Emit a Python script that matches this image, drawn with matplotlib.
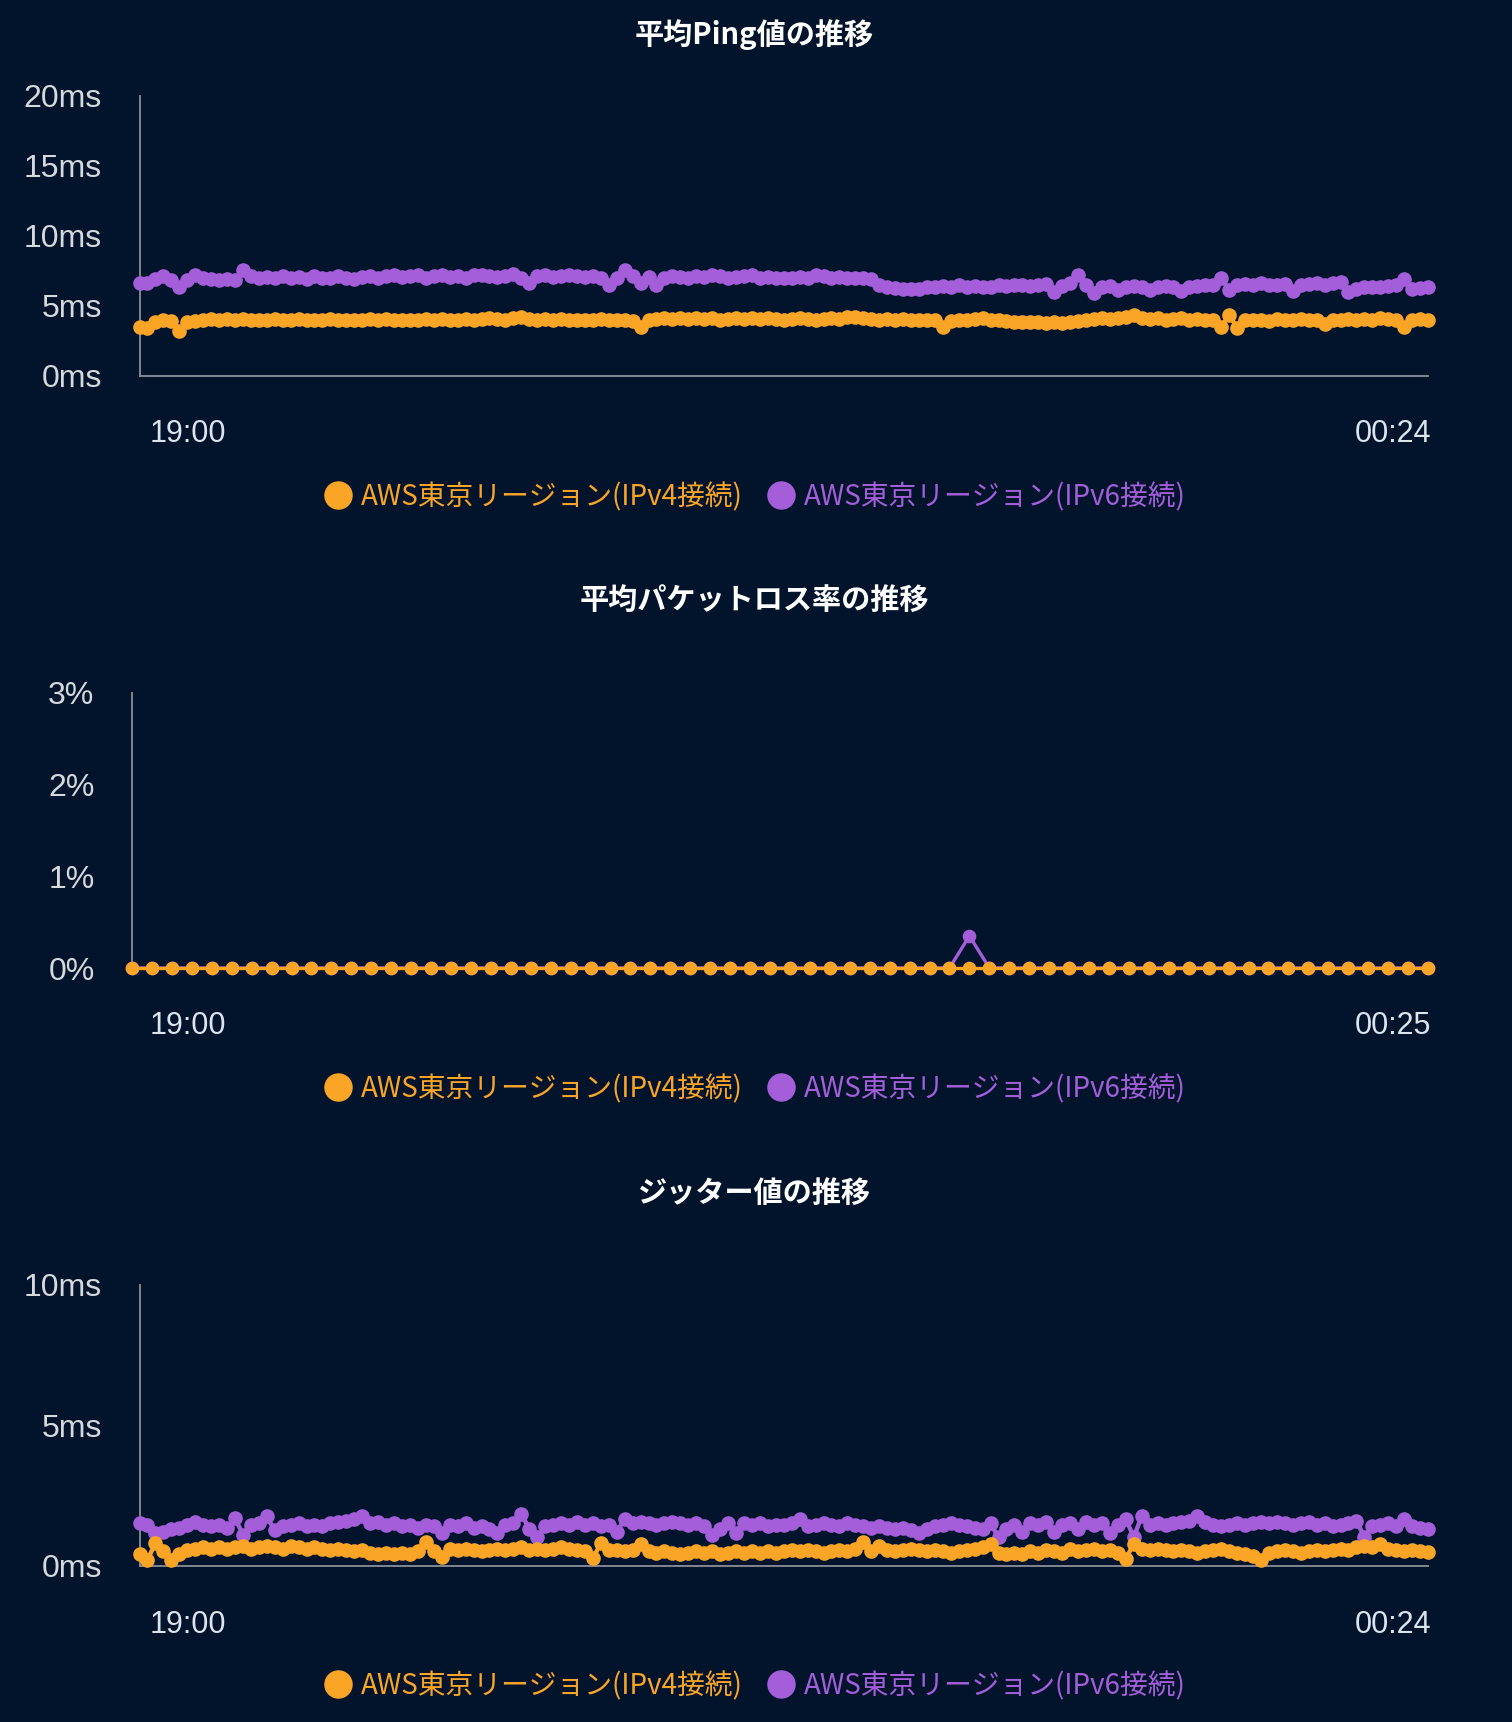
import matplotlib
matplotlib.use("Agg")
import matplotlib.pyplot as plt
from matplotlib.lines import Line2D
import numpy as np

# ---------------- data ----------------
series_names = ["AWS東京リージョン(IPv4接続)", "AWS東京リージョン(IPv6接続)"]
x_labels_ping = ["19:00", "00:24"]
x_labels_loss = ["19:00", "00:25"]
x_labels_jitter = ["19:00", "00:24"]

ping_ticks = [0, 5, 10, 15, 20]
ping_tick_labels = ["0ms", "5ms", "10ms", "15ms", "20ms"]
loss_ticks = [0, 1, 2, 3]
loss_tick_labels = ["0%", "1%", "2%", "3%"]
jitter_ticks = [0, 5, 10]
jitter_tick_labels = ["0ms", "5ms", "10ms"]

# average ping (ms), one value every 2 minutes 19:00 - 00:24
ping_v4 = [
    3.45, 3.4, 3.8, 3.95, 3.9, 3.15, 3.85, 3.9, 4.0, 4.05,
    4.0, 4.05, 4.0, 4.05, 4.0, 3.95, 4.0, 4.05, 4.0, 4.0,
    4.05, 4.0, 3.95, 4.0, 4.05, 4.0, 4.0, 3.95, 4.0, 4.05,
    4.0, 4.05, 4.0, 4.0, 3.95, 4.0, 4.05, 4.0, 4.05, 4.0,
    4.0, 4.05, 4.0, 4.05, 4.1, 4.05, 4.0, 4.1, 4.2, 4.05,
    4.0, 4.05, 4.0, 4.05, 4.0, 4.0, 3.95, 4.0, 4.05, 4.0,
    4.0, 3.95, 3.9, 3.5, 4.0, 4.05, 4.1, 4.05, 4.1, 4.05,
    4.1, 4.05, 4.1, 4.0, 4.05, 4.1, 4.05, 4.1, 4.05, 4.1,
    4.05, 4.0, 4.05, 4.1, 4.05, 4.0, 4.05, 4.1, 4.05, 4.15,
    4.2, 4.1, 4.05, 4.0, 4.05, 4.0, 4.05, 4.0, 3.95, 4.0,
    3.95, 3.5, 3.9, 3.95, 4.0, 4.05, 4.1, 4.0, 3.95, 3.9,
    3.85, 3.8, 3.85, 3.8, 3.75, 3.8, 3.75, 3.8, 3.9, 4.0,
    4.05, 4.1, 4.05, 4.1, 4.15, 4.3, 4.1, 4.05, 4.1, 4.0,
    4.05, 4.1, 4.0, 4.05, 4.0, 3.95, 3.45, 4.35, 3.4, 4.0,
    3.95, 4.0, 3.9, 4.05, 3.95, 4.0, 4.05, 3.95, 4.0, 3.65,
    4.0, 3.95, 4.05, 4.0, 4.05, 3.95, 4.1, 4.05, 4.0, 3.45,
    4.0, 4.05, 4.0,
]
ping_v6 = [
    6.6, 6.6, 6.9, 7.1, 6.8, 6.35, 6.8, 7.15, 7.0, 6.9,
    6.85, 6.9, 6.85, 7.55, 7.1, 7.0, 7.05, 6.95, 7.1, 7.0,
    7.05, 6.9, 7.1, 7.0, 6.95, 7.1, 7.0, 6.9, 7.05, 7.1,
    7.0, 7.1, 7.15, 7.05, 7.1, 7.15, 7.0, 7.1, 7.2, 7.05,
    7.1, 7.0, 7.15, 7.2, 7.1, 7.05, 7.1, 7.25, 7.0, 6.6,
    7.1, 7.15, 7.05, 7.1, 7.2, 7.1, 7.05, 7.1, 6.95, 6.5,
    7.0, 7.55, 7.1, 6.6, 7.05, 6.5, 7.0, 7.1, 7.05, 7.0,
    7.1, 7.05, 7.2, 7.1, 7.0, 7.05, 7.1, 7.2, 7.0, 7.05,
    7.0, 6.95, 7.0, 7.05, 7.0, 7.15, 7.1, 7.0, 7.05, 6.95,
    7.0, 6.95, 6.9, 6.45, 6.3, 6.25, 6.2, 6.15, 6.2, 6.35,
    6.3, 6.4, 6.35, 6.45, 6.3, 6.4, 6.35, 6.3, 6.45, 6.4,
    6.5, 6.45, 6.4, 6.5, 6.55, 5.95, 6.4, 6.6, 7.2, 6.5,
    5.9, 6.35, 6.4, 6.1, 6.35, 6.4, 6.3, 6.1, 6.35, 6.4,
    6.3, 6.05, 6.35, 6.4, 6.45, 6.5, 7.0, 6.1, 6.5, 6.55,
    6.5, 6.6, 6.45, 6.5, 6.55, 6.05, 6.5, 6.55, 6.6, 6.5,
    6.6, 6.7, 5.95, 6.2, 6.3, 6.35, 6.3, 6.4, 6.45, 6.9,
    6.2, 6.25, 6.3,
]

# average packet loss (%), one value every 5 minutes 19:00 - 00:25
loss_v4 = [0.0] * 66
loss_v6 = [0.0] * 42 + [0.35] + [0.0] * 23

# jitter (ms), one value every 2 minutes 19:00 - 00:24
jitter_v4 = [
    0.42, 0.2, 0.8, 0.5, 0.2, 0.4, 0.55, 0.6, 0.65, 0.6,
    0.65, 0.6, 0.65, 0.7, 0.6, 0.65, 0.7, 0.65, 0.6, 0.7,
    0.65, 0.6, 0.65, 0.6, 0.55, 0.6, 0.55, 0.5, 0.55, 0.45,
    0.42, 0.45, 0.4, 0.45, 0.42, 0.5, 0.85, 0.5, 0.3, 0.6,
    0.55, 0.6, 0.55, 0.5, 0.55, 0.6, 0.55, 0.6, 0.65, 0.55,
    0.6, 0.55, 0.6, 0.65, 0.6, 0.55, 0.5, 0.25, 0.8, 0.55,
    0.55, 0.5, 0.55, 0.78, 0.5, 0.45, 0.5, 0.45, 0.4, 0.45,
    0.5, 0.45, 0.5, 0.4, 0.45, 0.5, 0.45, 0.5, 0.45, 0.5,
    0.45, 0.5, 0.55, 0.5, 0.55, 0.5, 0.45, 0.5, 0.55, 0.5,
    0.6, 0.83, 0.5, 0.7, 0.55, 0.5, 0.55, 0.6, 0.55, 0.5,
    0.55, 0.5, 0.45, 0.5, 0.55, 0.6, 0.65, 0.75, 0.45, 0.4,
    0.45, 0.4, 0.5, 0.45, 0.55, 0.5, 0.45, 0.6, 0.5, 0.55,
    0.6, 0.5, 0.55, 0.45, 0.24, 0.77, 0.6, 0.55, 0.6, 0.55,
    0.5, 0.55, 0.5, 0.45, 0.5, 0.55, 0.6, 0.5, 0.45, 0.4,
    0.35, 0.2, 0.45, 0.5, 0.55, 0.5, 0.45, 0.5, 0.55, 0.5,
    0.55, 0.6, 0.55, 0.65, 0.7, 0.65, 0.77, 0.6, 0.55, 0.5,
    0.55, 0.5, 0.48,
]
jitter_v6 = [
    1.5, 1.45, 1.15, 1.2, 1.3, 1.35, 1.45, 1.55, 1.45, 1.4,
    1.45, 1.35, 1.7, 1.1, 1.45, 1.5, 1.75, 1.25, 1.4, 1.45,
    1.5, 1.4, 1.45, 1.4, 1.5, 1.55, 1.6, 1.65, 1.75, 1.5,
    1.55, 1.45, 1.5, 1.4, 1.45, 1.35, 1.45, 1.4, 1.15, 1.45,
    1.4, 1.5, 1.35, 1.4, 1.3, 1.15, 1.45, 1.5, 1.85, 1.3,
    1.0, 1.4, 1.45, 1.5, 1.45, 1.55, 1.45, 1.5, 1.4, 1.45,
    1.2, 1.65, 1.5, 1.55, 1.5, 1.45, 1.5, 1.55, 1.5, 1.45,
    1.5, 1.4, 1.1, 1.3, 1.5, 1.15, 1.5, 1.45, 1.5, 1.4,
    1.45, 1.45, 1.5, 1.67, 1.4, 1.45, 1.5, 1.45, 1.4, 1.5,
    1.45, 1.4, 1.35, 1.4, 1.35, 1.3, 1.35, 1.25, 1.15, 1.3,
    1.4, 1.45, 1.5, 1.45, 1.4, 1.35, 1.3, 1.5, 1.0, 1.3,
    1.45, 1.2, 1.5, 1.45, 1.55, 1.2, 1.45, 1.5, 1.3, 1.55,
    1.45, 1.5, 1.15, 1.45, 1.67, 1.01, 1.75, 1.45, 1.5, 1.45,
    1.5, 1.55, 1.6, 1.75, 1.55, 1.45, 1.4, 1.45, 1.5, 1.45,
    1.5, 1.55, 1.5, 1.55, 1.5, 1.45, 1.5, 1.55, 1.45, 1.5,
    1.4, 1.45, 1.5, 1.6, 1.01, 1.4, 1.45, 1.5, 1.4, 1.67,
    1.4, 1.35, 1.3,
]

titles = ["平均Ping値の推移", "平均パケットロス率の推移", "ジッター値の推移"]

# ---------------- style ----------------
BG = "#02142c"
ORANGE = "#fba527"
PURPLE = "#a45ed9"
AXIS = "#8a8f98"
TICK = "#d6d8dc"
XLAB = "#dde4ee"
CJK = ["Noto Sans CJK JP", "DejaVu Sans"]
LAT = ["Liberation Sans", "DejaVu Sans"]

W, H = 1512, 1722
fig = plt.figure(figsize=(W / 100, H / 100), dpi=100)
fig.patch.set_facecolor(BG)


def px_axes(left, top, right, bottom):
    return fig.add_axes([left / W, 1 - bottom / H, (right - left) / W, (bottom - top) / H])


panels = [
    dict(box=(139.5, 95.5, 1428, 375.5), v4=ping_v4, v6=ping_v6, ylim=20,
         ticks=ping_ticks, tlabels=ping_tick_labels, xl=x_labels_ping,
         title_y=35, xlab_y=434, leg_y=497, ms=9.5, lw=3.2),
    dict(box=(132, 693, 1428, 968), v4=loss_v4, v6=loss_v6, ylim=3,
         ticks=loss_ticks, tlabels=loss_tick_labels, xl=x_labels_loss,
         title_y=600, xlab_y=1026, leg_y=1089, ms=8.8, lw=2.4),
    dict(box=(139.5, 1285, 1428, 1565.5), v4=jitter_v4, v6=jitter_v6, ylim=10,
         ticks=jitter_ticks, tlabels=jitter_tick_labels, xl=x_labels_jitter,
         title_y=1193, xlab_y=1625, leg_y=1686, ms=9.5, lw=3.2),
]

for p, title in zip(panels, titles):
    ax = px_axes(*p["box"])
    ax.set_facecolor(BG)
    n = len(p["v4"])
    x = np.arange(n)
    ax.plot(x, p["v6"], color=PURPLE, lw=p["lw"], marker="o", ms=p["ms"],
            mec=PURPLE, mfc=PURPLE, clip_on=False, zorder=3)
    ax.plot(x, p["v4"], color=ORANGE, lw=p["lw"], marker="o", ms=p["ms"],
            mec=ORANGE, mfc=ORANGE, clip_on=False, zorder=4)
    ax.set_xlim(0, n - 1)
    ax.set_ylim(0, p["ylim"])
    for s in ["top", "right"]:
        ax.spines[s].set_visible(False)
    for s in ["left", "bottom"]:
        ax.spines[s].set_color(AXIS)
        ax.spines[s].set_linewidth(1.3)
    ax.set_xticks([])
    ax.set_yticks(p["ticks"])
    ax.set_yticklabels(p["tlabels"], fontfamily=LAT, fontsize=23, color=TICK)
    ax.tick_params(axis="y", length=0, pad=27)

    # x labels (first / last)
    fig.text(188 / W, 1 - p["xlab_y"] / H, p["xl"][0], ha="center", va="center",
             fontfamily=LAT, fontsize=22, color=XLAB)
    fig.text(1431 / W, 1 - p["xlab_y"] / H, p["xl"][1], ha="right", va="center",
             fontfamily=LAT, fontsize=22, color=XLAB)
    # title
    fig.text(754 / W, 1 - p["title_y"] / H, title, ha="center", va="center",
             fontfamily=CJK, fontsize=21, fontweight="bold", color="#ffffff")
    # legend
    handles = [Line2D([], [], ls="none", marker="o", ms=19.5, mfc=ORANGE, mec=ORANGE),
               Line2D([], [], ls="none", marker="o", ms=19.5, mfc=PURPLE, mec=PURPLE)]
    leg = fig.legend(handles, series_names, loc="center", ncol=2,
                     bbox_to_anchor=(755 / W, 1 - p["leg_y"] / H),
                     frameon=False, handlelength=1.0, handletextpad=0.3,
                     columnspacing=0.9, prop={"family": CJK, "size": 20})
    for t, c in zip(leg.get_texts(), [ORANGE, PURPLE]):
        t.set_color(c)

fig.savefig("out.png", dpi=100, facecolor=BG)
